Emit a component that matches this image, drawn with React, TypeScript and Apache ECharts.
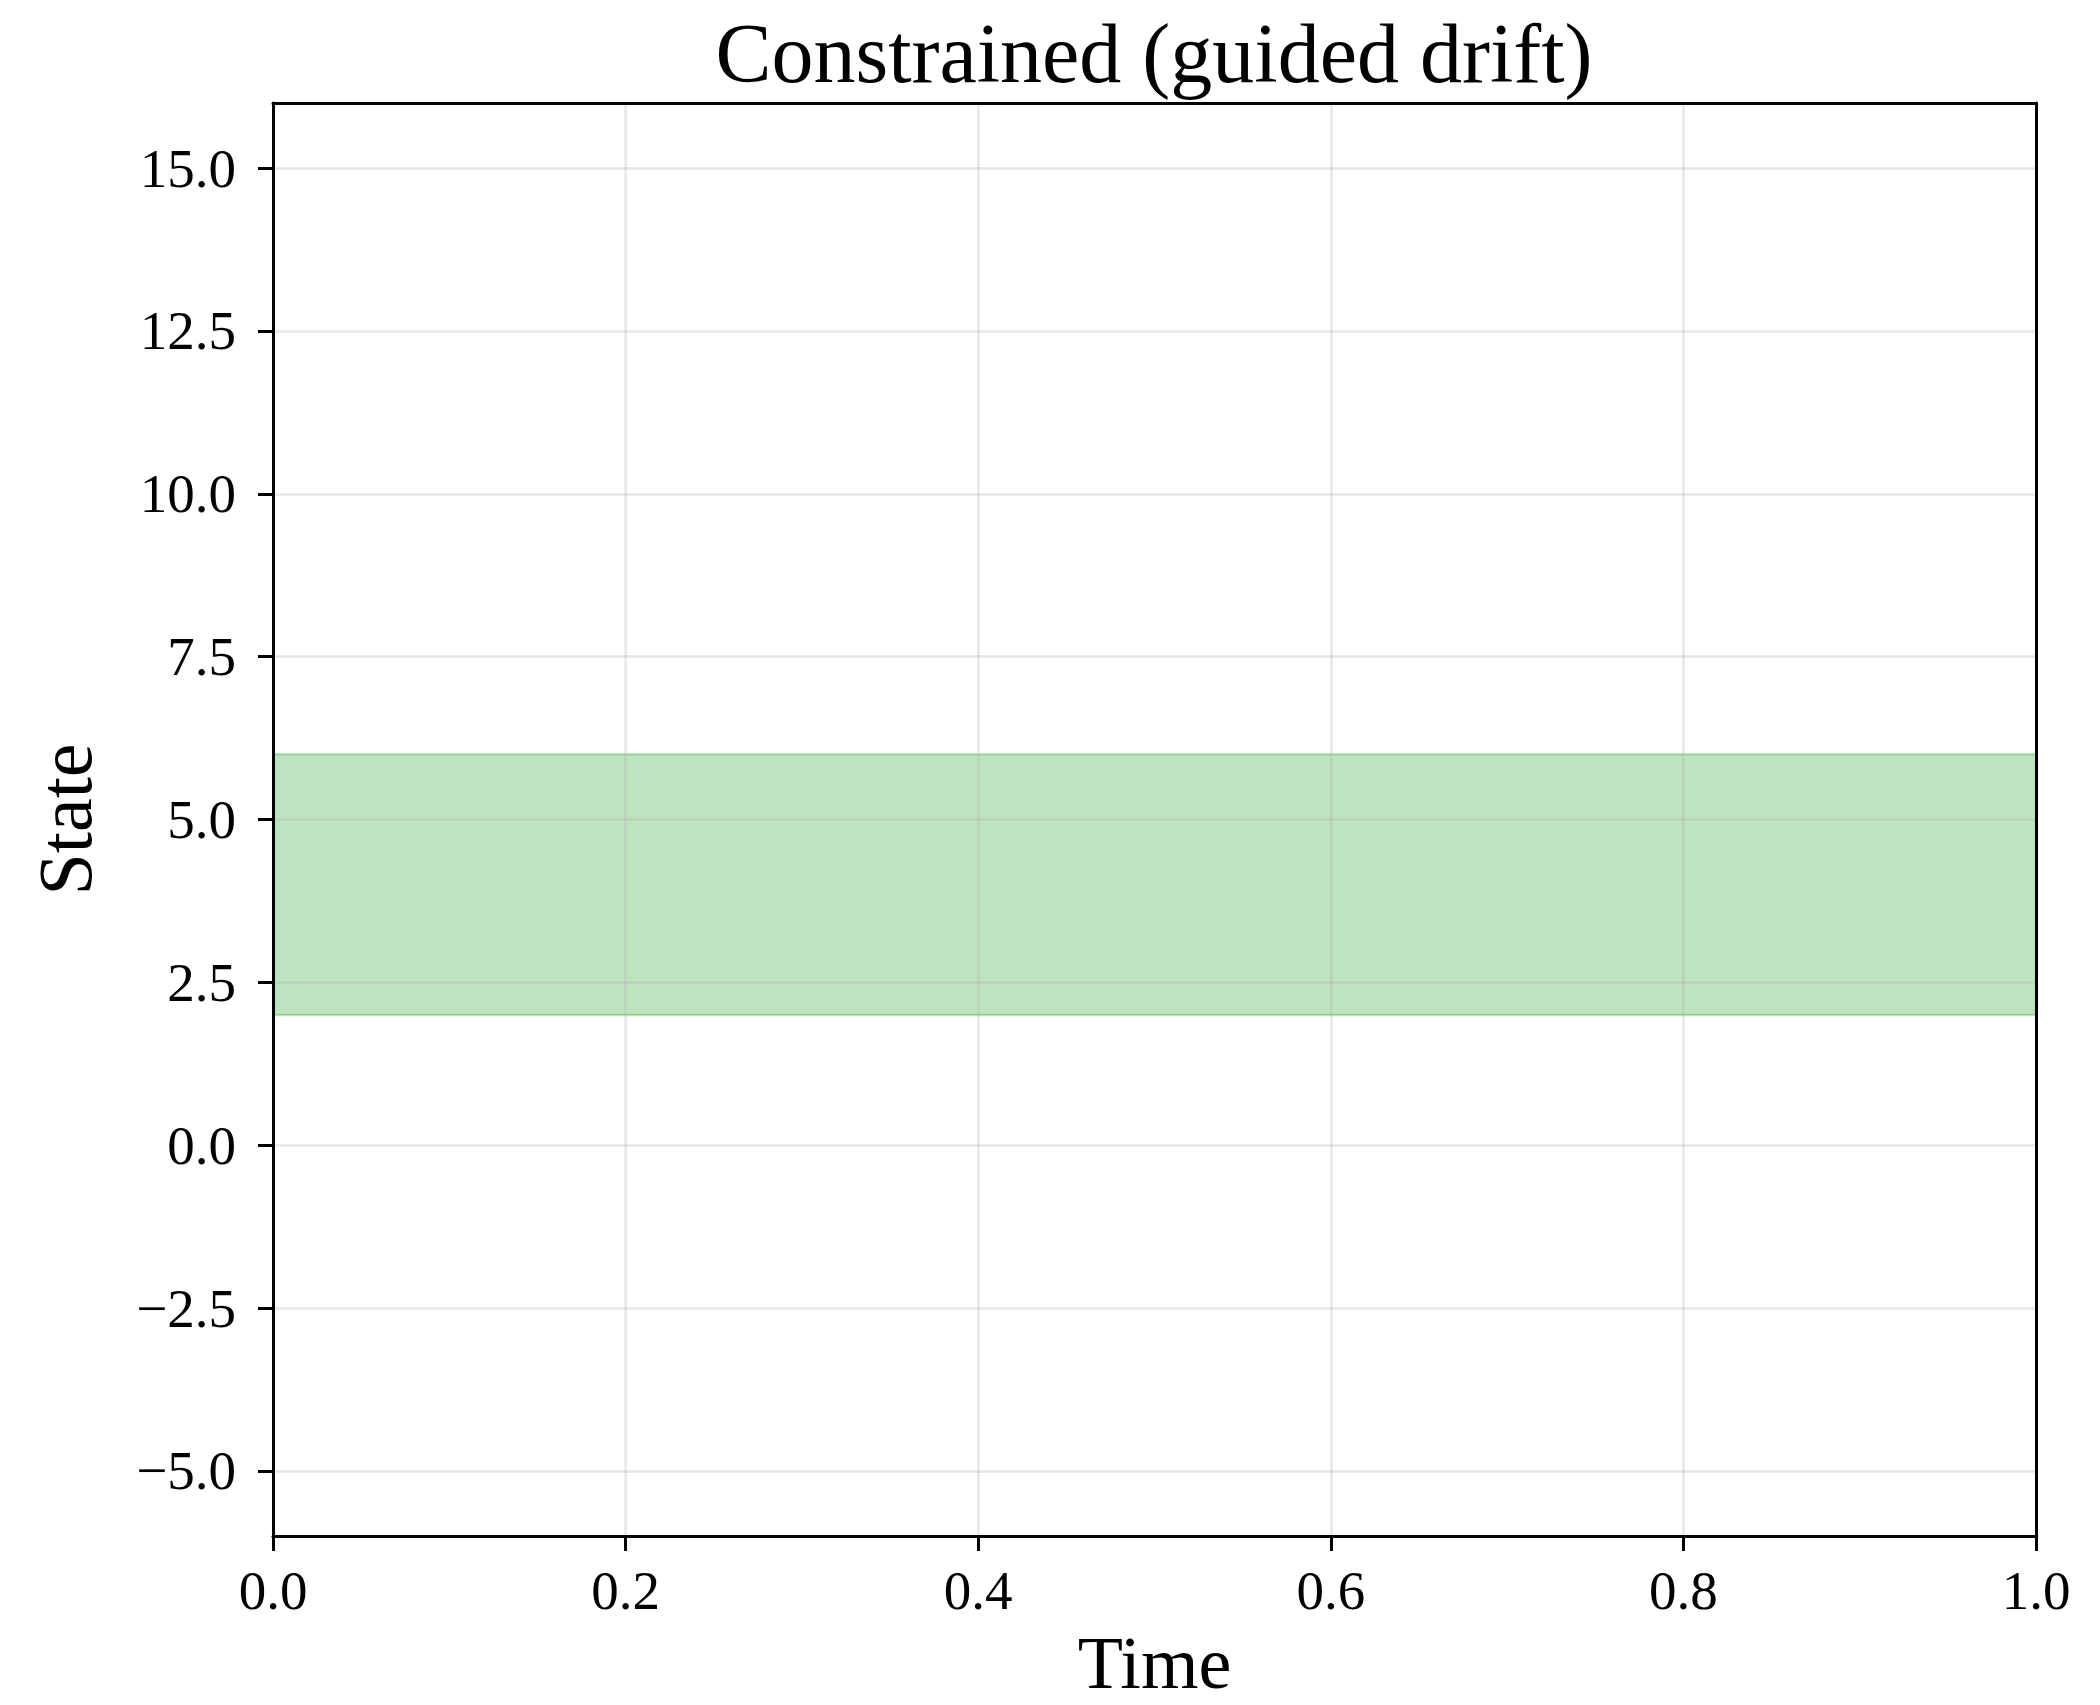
import React, { useEffect, useRef } from "react";
import * as echarts from "echarts";

// Time axis ticks and state axis ticks
const timeTicks = [0, 0.2, 0.4, 0.6, 0.8, 1.0];
const stateTicks = [-5, -2.5, 0, 2.5, 5, 7.5, 10, 12.5, 15];

// Guided-drift corridor: lower and upper bound over the time span
const bandTime = [0, 1];
const bandLower = [2, 2];
const bandUpper = [6, 6];

const FONT = "'Liberation Serif', 'Times New Roman', serif";
const fmt = (v: number) => (v < 0 ? "\u2212" + Math.abs(v).toFixed(1) : v.toFixed(1));

export default function App() {
  const ref = useRef<HTMLDivElement>(null);

  useEffect(() => {
    document.body.style.margin = "0";
    const chart = echarts.init(ref.current!, null, { renderer: "svg" });

    const upperData = bandTime.map((t, i) => [t, bandUpper[i]]);
    const lowerData = bandTime.map((t, i) => [t, bandLower[i]]);
    const edge = { color: "rgba(44,160,44,0.3)", width: 2.5 };

    const tickStyle = { show: true, inside: false, length: 15, lineStyle: { color: "#000", width: 3 } };
    const gridLine = { show: true, lineStyle: { color: "rgba(176,176,176,0.3)", width: 2.5 } };

    chart.setOption({
      animation: false,
      backgroundColor: "#fff",
      title: {
        text: "Constrained (guided drift)",
        left: 1149,
        top: 6,
        textAlign: "center",
        textStyle: { fontFamily: FONT, fontSize: 84, fontWeight: "normal", color: "#000" },
      },
      grid: { left: 273, top: 103, width: 1763, height: 1442, containLabel: false },
      xAxis: [
        {
          type: "value",
          min: 0,
          max: 1,
          interval: 0.2,
          z: 5,
          name: "Time",
          nameLocation: "middle",
          nameGap: 90,
          nameTextStyle: { fontFamily: FONT, fontSize: 74, color: "#000" },
          axisLine: { show: true, onZero: false, lineStyle: { color: "#000", width: 3 } },
          axisTick: tickStyle,
          axisLabel: {
            margin: 27,
            fontFamily: FONT,
            fontSize: 55,
            color: "#000",
            formatter: (v: number) => fmt(v),
            customValues: timeTicks,
          },
          splitLine: gridLine,
        },
        {
          type: "value",
          position: "top",
          min: 0,
          max: 1,
          z: 5,
          axisLine: { show: true, onZero: false, lineStyle: { color: "#000", width: 3 } },
          axisTick: { show: false },
          axisLabel: { show: false },
          splitLine: { show: false },
        },
      ],
      yAxis: [
        {
          type: "value",
          min: -6,
          max: 16,
          z: 5,
          name: "State",
          nameLocation: "middle",
          nameGap: 170,
          nameTextStyle: { fontFamily: FONT, fontSize: 76, color: "#000" },
          axisLine: { show: true, onZero: false, lineStyle: { color: "#000", width: 3 } },
          axisTick: { ...tickStyle, customValues: stateTicks },
          axisLabel: {
            margin: 37,
            fontFamily: FONT,
            fontSize: 55,
            color: "#000",
            formatter: (v: number) => fmt(v),
            customValues: stateTicks,
          },
          splitLine: gridLine,
        },
        {
          type: "value",
          position: "right",
          min: -6,
          max: 16,
          z: 5,
          axisLine: { show: true, onZero: false, lineStyle: { color: "#000", width: 3 } },
          axisTick: { show: false },
          axisLabel: { show: false },
          splitLine: { show: false },
        },
      ],
      series: [
        {
          type: "line",
          name: "upper",
          data: upperData,
          showSymbol: false,
          lineStyle: edge,
          areaStyle: { origin: bandLower[0], color: "rgba(44,160,44,0.3)", opacity: 1 },
          z: 2,
        },
        {
          type: "line",
          name: "lower",
          data: lowerData,
          showSymbol: false,
          lineStyle: edge,
          z: 2,
        },
      ],
    });

    return () => chart.dispose();
  }, []);

  return <div ref={ref} style={{ width: 2100, height: 1705 }} />;
}
